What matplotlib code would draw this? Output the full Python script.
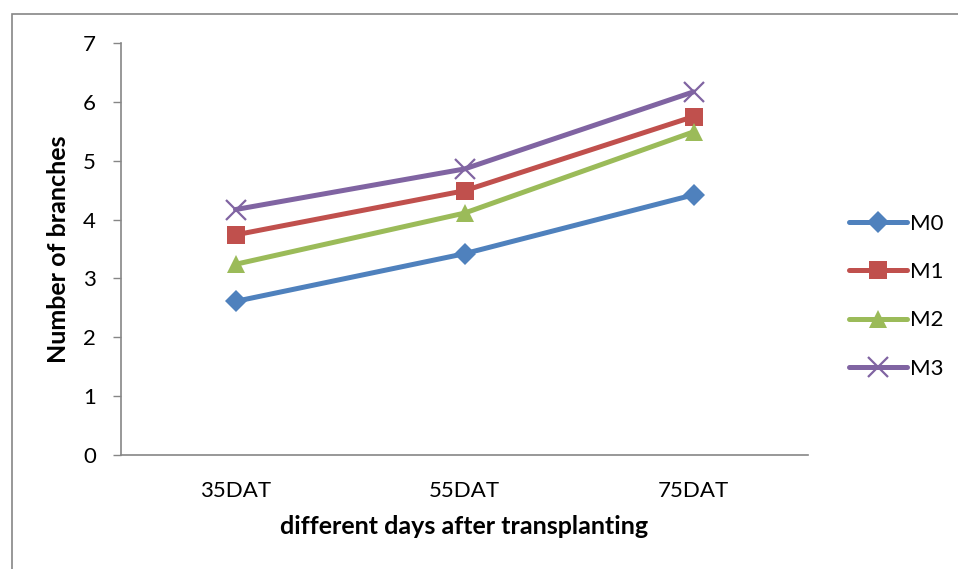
import matplotlib.pyplot as plt
from matplotlib.patches import Rectangle

plt.rcParams['font.family'] = ['Lato', 'DejaVu Sans']

days = ['35DAT', '55DAT', '75DAT']
m0 = [2.61, 3.42, 4.42]
m1 = [3.74, 4.49, 5.75]
m2 = [3.24, 4.11, 5.49]
m3 = [4.17, 4.86, 6.17]

series = [
    ('M0', m0, '#4F81BD', 'D', 11),
    ('M1', m1, '#C0504D', 's', 13),
    ('M2', m2, '#9BBB59', '^', 13),
    ('M3', m3, '#8064A2', 'x', 14),
]

fig = plt.figure(figsize=(9.58, 5.69), dpi=100)
ax = fig.add_axes([121 / 958, 1 - 455 / 569, (808 - 121) / 958, (455 - 43) / 569])

x = [i + 0.5 for i in range(len(days))]
for name, vals, col, mk, ms in series:
    if mk == 'x':
        ax.plot(x, vals, color=col, lw=3.6, marker=mk, ms=ms, mew=1.6,
                mec=col, label=name, solid_capstyle='round')
    else:
        ax.plot(x, vals, color=col, lw=3.6, marker=mk, ms=ms, mew=0,
                mfc=col, label=name, solid_capstyle='round')

ax.set_xlim(0, 3)
ax.set_ylim(0, 7)
ax.set_xticks(x)
ax.set_xticklabels(days)
ax.set_yticks(range(8))
ax.tick_params(axis='x', length=0, labelsize=16, pad=19)
ax.tick_params(axis='y', length=6, width=1, color='#868686', labelsize=16, pad=12)

for s in ['top', 'right']:
    ax.spines[s].set_visible(False)
for s in ['left', 'bottom']:
    ax.spines[s].set_color('#868686')
    ax.spines[s].set_linewidth(1.2)

ax.set_xlabel('different days after transplanting', fontsize=18, fontweight='bold', labelpad=10)
ax.set_ylabel('Number of branches', fontsize=18, fontweight='bold', labelpad=9)

leg = fig.legend(loc='upper left', bbox_to_anchor=(840 / 958, 1 - 205 / 569),
                 frameon=False, fontsize=16, handlelength=2.6, handletextpad=0.15,
                 labelspacing=1.27, borderaxespad=0)

# chart area border
fig.add_artist(Rectangle((12 / 958, -0.05), 1.0, 1 - 14 / 569 + 0.05,
                         transform=fig.transFigure, fill=False,
                         edgecolor='#868686', lw=1.2))

fig.savefig('out.png', dpi=100)
